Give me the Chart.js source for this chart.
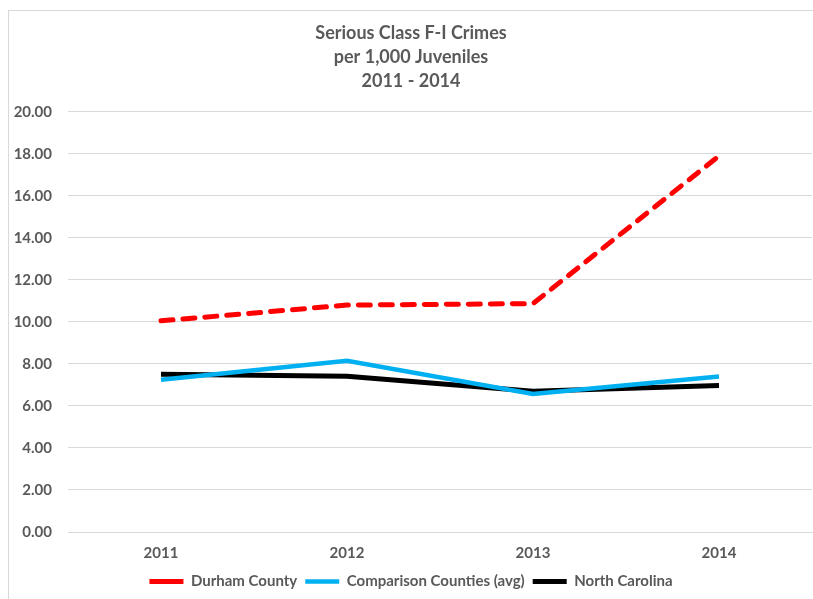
<!DOCTYPE html>
<html lang="en">
<head>
  <meta charset="UTF-8">
  <title>Serious Class F-I Crimes</title>
  <script src="https://cdn.jsdelivr.net/npm/chart.js"></script>
  <style>
    html, body { margin: 0; padding: 0; background: #fff; overflow: hidden; }
    #frame { position: absolute; left: 8px; top: 10px; width: 900px; height: 700px; border: 1px solid #d9d9d9; pointer-events: none; }
  </style>
</head>
<body>
  <canvas id="crimeChart" width="813" height="599"></canvas>
  <div id="frame"></div>

  <script>
    // data
    const years = ['2011', '2012', '2013', '2014'];
    const durham = [10.05, 10.8, 10.87, 17.9];
    const comparison = [7.25, 8.15, 6.57, 7.4];
    const northCarolina = [7.51, 7.41, 6.7, 6.97];
    const titleLines = ['Serious Class F-I Crimes', 'per 1,000 Juveniles', '2011 - 2014'];

    const grey = '#595959';
    const fontFamily = 'Lato, "Open Sans", sans-serif';

    const ctx = document.getElementById('crimeChart').getContext('2d');
    const crimeChart = new Chart(ctx, {
      type: 'line',
      data: {
        labels: years,
        datasets: [
          {
            label: 'Durham County',
            data: durham,
            borderColor: '#ff0000',
            borderWidth: 5,
            borderDash: [12, 10],
            borderCapStyle: 'round',
            pointRadius: 0,
            pointStyle: 'line',
            fill: false
          },
          {
            label: 'Comparison Counties (avg)',
            data: comparison,
            borderColor: '#00b0f0',
            borderWidth: 4.5,
            pointRadius: 0,
            pointStyle: 'line',
            fill: false
          },
          {
            label: 'North Carolina',
            data: northCarolina,
            borderColor: '#000000',
            borderWidth: 5,
            pointRadius: 0,
            pointStyle: 'line',
            fill: false
          }
        ]
      },
      options: {
        responsive: false,
        animation: false,
        layout: { padding: { left: 10, right: 1, top: 10, bottom: 0 } },
        plugins: {
          title: {
            display: true,
            text: titleLines,
            color: grey,
            font: { family: fontFamily, size: 18, weight: 'bold', lineHeight: 1.33 },
            padding: { top: 11, bottom: 19 }
          },
          legend: {
            position: 'bottom',
            labels: {
              usePointStyle: true,
              pointStyleWidth: 34,
              boxHeight: 5,
              color: grey,
              font: { family: fontFamily, size: 15, weight: 'bold' },
              padding: 8
            }
          },
          tooltip: { enabled: false }
        },
        scales: {
          x: {
            offset: true,
            grid: { display: false },
            border: { display: true, color: '#d9d9d9' },
            ticks: {
              color: grey,
              font: { family: fontFamily, size: 15, weight: 'bold' },
              padding: 4
            }
          },
          y: {
            min: 0,
            max: 20,
            border: { display: false },
            grid: { color: '#d9d9d9', drawTicks: false },
            afterFit: scale => { scale.width = 58; },
            ticks: {
              stepSize: 2,
              color: grey,
              font: { family: fontFamily, size: 15, weight: 'bold' },
              padding: 16,
              callback: v => v.toFixed(2)
            }
          }
        }
      }
    });
  </script>
</body>
</html>
